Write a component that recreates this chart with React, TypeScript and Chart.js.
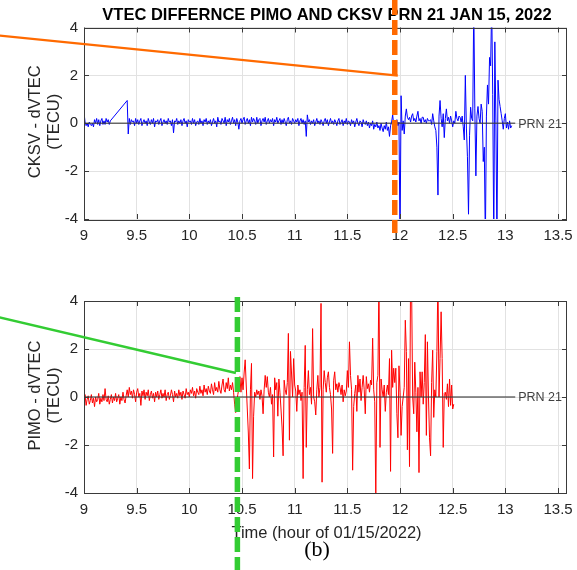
import React, { useEffect, useRef } from 'react';
import { Chart, registerables } from 'chart.js';

Chart.register(...registerables);

// ---- data -------------------------------------------------------------
const TIME_START = 9; // hour of first sample
const TIME_STEP = 0.01; // hours between samples

const X_MIN = 9;
const X_MAX = 13.585;
const X_TICKS = [9, 9.5, 10, 10.5, 11, 11.5, 12, 12.5, 13, 13.5];
const Y_MIN = -4;
const Y_MAX = 4;
const Y_TICKS = [-4, -2, 0, 2, 4];

// CKSV - dVTEC (TECU), one value per TIME_STEP starting at 9.00 h (null = data gap)
const CKSV_DVTEC: (number | null)[] = [
  0.45, 0.05, -0.1, 0, -0.15, 0.05, -0.05, -0.1, 0, -0.15,
  0.15, 0, 0.2, -0.05, 0.15, -0.1, 0.1, 0.2, -0.05, 0.1,
  -0.05, 0.2, 0.05, 0.15, -0.05, 0.1, null, null, null, null,
  null, null, null, null, null, null, null, null, null, null,
  null, 0.95, -0.45, 0.2, -0.05, 0.15, 0.05, 0.1, -0.1, 0.2,
  0, 0.15, -0.05, 0.1, 0.2, -0.1, 0.05, 0.15, 0, 0.1,
  -0.1, 0.2, 0.05, -0.05, 0.15, 0, 0.2, -0.15, 0.1, 0.05,
  0.15, -0.05, 0.1, 0.2, -0.1, 0.05, 0.15, 0, 0.1, -0.05,
  0.2, 0.05, 0.1, -0.1, 0.15, -0.4, 0.1, 0.05, 0.2, -0.05,
  0.1, 0, 0.15, -0.1, 0.1, 0.2, 0, 0.1, -0.15, 0.15,
  0.05, 0.1, -0.05, 0.2, 0, 0.15, -0.1, 0.05, 0.1, -0.05,
  0.2, 0, 0.1, -0.1, 0.15, 0.05, 0.2, -0.05, 0.1, 0,
  0.15, -0.1, 0.05, 0.2, 0, 0.1, -0.15, 0.25, 0.05, 0.1,
  -0.05, 0.2, 0.1, 0, 0.25, -0.1, 0.15, 0.05, 0.2, -0.05,
  0.1, 0.25, 0, 0.15, -0.1, 0.2, 0.05, -0.25, 0.1, 0.2,
  0, 0.15, 0.25, -0.05, 0.1, 0.2, 0, 0.15, -0.1, 0.25,
  0.05, 0.2, 0.1, -0.05, 0.25, 0, 0.15, 0.2, -0.1, 0.1,
  0.2, 0.05, 0.25, -0.05, 0.1, 0.2, 0, 0.15, 0.05, 0.2,
  -0.1, 0.15, 0.05, 0.25, 0, 0.1, 0.2, -0.05, 0.15, 0,
  0.2, 0.05, -0.1, 0.15, 0.25, 0, 0.1, -0.05, 0.2, 0.1,
  0, 0.15, 0.05, 0.2, -0.1, 0.1, 0.2, 0, 0.15, -0.05,
  0.1, -0.55, 0.35, 0.05, 0.15, -0.05, 0.1, 0, 0.15, -0.1,
  0.05, 0.2, 0, 0.1, -0.05, 0.15, 0.05, -0.1, 0.1, 0.2,
  0, 0.15, -0.1, 0.05, 0.2, 0, 0.1, -0.05, 0.15, 0.05,
  -0.1, 0.1, 0.2, -0.05, 0.05, 0.15, -0.1, 0.1, 0, 0.2,
  -0.05, 0.1, 0.05, -0.1, 0.15, 0, 0.1, -0.15, 0.05, 0.2,
  0, -0.1, 0.1, 0.05, -0.15, 0.15, 0, -0.05, 0.1, -0.1,
  0.05, -0.2, 0, -0.1, 0.1, -0.25, -0.05, -0.15, 0.05, -0.2,
  -0.1, -0.3, 0, -0.2, -0.35, -0.1, -0.25, 0.05, -0.3, -0.15,
  -0.55, -0.1, 0.05, 0.35, -0.05, 0.1, 0, 0.15, -0.1, 0.05,
  -5, 1.15, -0.3, 0.1, -0.45, 0.3, 0.6, 0.25, 0.15, 0.25,
  0.05, 0.3, 0.4, 0.1, 0.2, 0.05, 0.3, 0.5, 0.1, 0.2,
  0, 0.25, 0.25, 0.05, 0.15, 0, 0.2, 0.1, 0.1, 0.15,
  -0.05, 0.4, 0.1, -0.15, -0.3, -1, -3, 0.3, 0.95, 0.2,
  -0.15, 0.4, -0.6, 0.2, 0.6, 0.1, 0.25, 0, 0.3, 0.1,
  -0.15, 0.1, 0, 0.5, 0.2, 0.1, 0.3, 0.25, 0.05, 0.3,
  -0.15, -0.7, 2, -0.2, -1.4, -3.8, -0.5, 0.67, 0.2, 0.1,
  5, 0.6, -2.2, 0.3, 0.7, 0.2, 0, 0.8, 0.5, -1.6,
  -1, -5, 0.3, 1.6, 0.8, 2.75, 2.4, 5, 1.2, -5,
  3.4, 0.1, -5, 1.8, 1, 0.7, 0.4, 0.1, -0.25, 0.2,
  0.4, -0.2, 0.05, -0.25, 0.1, -0.2, -0.1,
];

// PIMO - dVTEC (TECU), one value per TIME_STEP starting at 9.00 h
const PIMO_DVTEC: (number | null)[] = [
  -0.2, 0.1, -0.35, -0.1, 0.05, -0.3, -0.15, 0.1, -0.25, -0.05,
  -0.4, 0, -0.2, -0.1, 0.15, -0.3, -0.05, -0.2, 0.1, -0.15,
  0.35, -0.1, -0.2, 0.05, -0.3, -0.1, 0.1, -0.25, 0, -0.15,
  0.15, -0.2, -0.05, 0.1, -0.3, 0, -0.15, 0.2, -0.1, -0.25,
  0.05, 0.3, 0, 0.4, 0.1, 0.25, -0.05, 0.3, 0.1, -0.2,
  0.2, 0.35, 0, 0.15, -0.35, 0.25, 0.05, 0.3, -0.1, 0.2,
  0.05, 0.3, -0.15, 0.1, 0.25, -0.05, 0.15, -0.2, 0.2, 0,
  0.25, -0.1, 0.1, 0.3, -0.05, 0.15, 0, 0.3, -0.15, 0.1,
  0.2, -0.1, 0.05, 0.3, 0.1, -0.2, 0.25, 0, 0.15, -0.05,
  0.3, 0.05, 0.2, -0.1, 0.25, 0.1, -0.05, 0.35, 0.1, 0.2,
  0, 0.3, 0.15, 0.4, 0.05, 0.25, -0.05, 0.35, 0.2, 0.1,
  0.45, 0.15, 0.3, 0.05, 0.5, 0.2, 0.35, 0.1, 0.45, 0.25,
  0.15, 0.55, 0.3, 0.1, 0.6, 0.25, 0.4, 0.2, 0.65, 0.3,
  0.15, 0.5, 0.75, 0.3, 0.2, 0.6, 0.35, 0.8, 0.25, 0.5,
  0.3, 0.6, 0.2, -0.3, -0.65, -0.2, 0.1, 0.35, 0.85, 0.2,
  0.8, 0.3, 1, 1.55, 0.5, -0.5, -1.5, -3, 0.3, 1.4,
  -3.4, -0.8, 0.2, 0, 0.3, 0.1, 0.25, -0.1, 0.3, 0.05,
  -0.7, 0.3, 0.9, 0.4, 0.85, 0.2, 0, 0.4, -0.3, 0.1,
  -2.5, 0.8, 0.3, 0.6, -0.8, 0.75, 0.2, -0.5, -1.25, -2.45,
  0.7, 0.3, 0.1, 0.6, 2.65, -1.8, 1.9, 1, 0, 1.6,
  0.5, 0.25, -0.6, 0.5, 0.1, 0.3, -0.15, 0.2, -3.4, 0.4,
  2.15, -2.1, 0.3, 1.1, 0.1, 0.4, -0.3, 2.85, 0, -0.2,
  -0.75, 0.3, 0.9, 0, 0.4, 3.9, -3.55, 0.3, 1.1, 0.6,
  0.2, 0.8, 1.05, 0.4, 0.1, -0.5, -2.35, 0.7, 1.05, 0.3,
  0.55, 0.2, 0.6, 0.4, 0.1, 0.5, -0.2, 0.3, 0.05, 0.25,
  1.1, 0.4, 2.3, 0.9, 0.3, -3.05, -0.4, 0.15, 0.5, -0.6,
  0.9, 0.2, 0.75, -0.15, 0.4, 0.9, 0.3, -0.7, 0.85, 0.35,
  0.55, 0.2, 0.7, 0.5, 2.45, 0.3, -0.2, -4.2, 0.6, 0.9,
  5, -2.1, 0.75, 0.3, 0, 0.5, -0.6, 0.2, 0.5, 0.1,
  1.6, -3.1, 1.95, 0.4, 1.2, 0.6, 1.2, -0.7, -1.7, 1.3,
  0.2, -1.6, -0.4, 0, 0.4, 3.2, 1.9, -2.2, 1.6, -2.9,
  5, 4.5, 0, -0.7, 1.45, 0.2, -1.45, 0.4, -3.15, 1.05,
  0, 1.05, -0.3, 0.6, 2.6, -1.6, 2.3, 0, -1.7, -2.45,
  0.6, 1.95, -0.85, 0.3, 0, 1.9, 5, 0, 1.6, 3.55,
  1.6, -2.1, 0.15, 0.2, -0.1, 0.55, -0.4, 0.75, -0.35, 0.5,
  -0.5, -0.3,
];

// Text
const TITLE = 'VTEC DIFFERNCE PIMO AND CKSV PRN 21 JAN 15, 2022';
const X_TITLE = 'Time (hour of 01/15/2022)';
const TOP_Y_TITLE = ['CKSV - dVTEC', '(TECU)'];
const BOTTOM_Y_TITLE = ['PIMO - dVTEC', '(TECU)'];
const LINE_LABEL = 'PRN 21';
const CAPTION = '(b)';

// Event markers (data units: hour, TECU)
const ORANGE_TIME = 11.95;
const ORANGE_POINTER: [number, number][] = [[8.1, 3.705], [11.979, 1.99]];
const GREEN_TIME = 10.456;
const GREEN_POINTER: [number, number][] = [[8.1, 3.416], [10.442, 1.0]];

// ---- styling ------------------------------------------------------------
const SANS = '"Liberation Sans", Arial, sans-serif';
const SERIF = '"Liberation Serif", "Times New Roman", serif';
const AXIS_COLOR = '#3a3a3a';
const TEXT_COLOR = '#262626';
const GRID_COLOR = '#e2e2e2';
const ORANGE = '#ff6a00';
const GREEN = '#33cc33';

const toPoints = (vals: (number | null)[]) =>
  vals.map((v, i) => ({ x: +(TIME_START + i * TIME_STEP).toFixed(2), y: v }));

const decorPlugin = {
  id: 'decor',
  afterDatasetsDraw(chart: any) {
    const { ctx, chartArea: a, scales } = chart;
    const xs = scales.x;
    const ys = scales.y;
    ctx.save();
    // zero reference line with label
    const y0 = ys.getPixelForValue(0);
    ctx.font = `12.5px ${SANS}`;
    const tw = ctx.measureText(LINE_LABEL).width;
    const tx = a.right - 5 - tw;
    ctx.strokeStyle = 'rgba(60,60,60,0.75)';
    ctx.lineWidth = 1.3;
    ctx.beginPath();
    ctx.moveTo(a.left, y0);
    ctx.lineTo(tx - 3, y0);
    ctx.stroke();
    ctx.fillStyle = '#404040';
    ctx.textAlign = 'left';
    ctx.textBaseline = 'middle';
    ctx.fillText(LINE_LABEL, tx, y0 + 1);
    // box
    ctx.strokeStyle = AXIS_COLOR;
    ctx.lineWidth = 1;
    ctx.strokeRect(Math.round(a.left) + 0.5, Math.round(a.top) + 0.5, Math.round(a.right - a.left) - 1, Math.round(a.bottom - a.top));
    // inward tick marks
    ctx.beginPath();
    X_TICKS.forEach((t) => {
      const px = Math.round(xs.getPixelForValue(t)) + 0.5;
      ctx.moveTo(px, a.bottom);
      ctx.lineTo(px, a.bottom - 5);
      ctx.moveTo(px, a.top);
      ctx.lineTo(px, a.top + 5);
    });
    Y_TICKS.forEach((t) => {
      const py = Math.round(ys.getPixelForValue(t)) + 0.5;
      ctx.moveTo(a.left, py);
      ctx.lineTo(a.left + 5, py);
      ctx.moveTo(a.right, py);
      ctx.lineTo(a.right - 5, py);
    });
    ctx.stroke();
    ctx.restore();
  },
  afterDraw(chart: any, _a: any, o: any) {
    const { ctx, chartArea: a, scales, height } = chart;
    const xs = scales.x;
    const ys = scales.y;
    ctx.save();
    // y axis title (two rotated lines)
    ctx.fillStyle = TEXT_COLOR;
    ctx.font = `16.5px ${SANS}`;
    ctx.textAlign = 'center';
    ctx.textBaseline = 'alphabetic';
    const cy = (a.top + a.bottom) / 2 - 1.5;
    (o.yTitle as string[]).forEach((line, i) => {
      ctx.save();
      ctx.translate(39.5 + i * 19, cy);
      ctx.rotate(-Math.PI / 2);
      ctx.fillText(line, 0, 0);
      ctx.restore();
    });
    if (o.title) {
      ctx.fillStyle = '#000';
      ctx.font = `bold 16.5px ${SANS}`;
      ctx.fillText(o.title, 327, 19.5);
    }
    if (o.xTitle) {
      ctx.fillStyle = TEXT_COLOR;
      ctx.font = `16.5px ${SANS}`;
      ctx.fillText(o.xTitle, 326.5, a.bottom + 44.5);
    }
    if (o.caption) {
      ctx.fillStyle = '#000';
      ctx.font = `22px ${SERIF}`;
      ctx.fillText(o.caption, 317, a.bottom + 63);
    }
    // slanted pointer line
    const m = o.marker;
    ctx.strokeStyle = m.color;
    ctx.lineWidth = m.pointerWidth;
    ctx.setLineDash([]);
    ctx.beginPath();
    ctx.moveTo(xs.getPixelForValue(m.pointer[0][0]), ys.getPixelForValue(m.pointer[0][1]));
    ctx.lineTo(xs.getPixelForValue(m.pointer[1][0]), ys.getPixelForValue(m.pointer[1][1]));
    ctx.stroke();
    // dashed vertical event line
    const vx = xs.getPixelForValue(m.time);
    const top = m.fromCanvasTop ? 0 : a.top + m.topOffset;
    const bottom = m.toCanvasBottom ? height : a.bottom + m.bottomOffset;
    ctx.lineWidth = m.width;
    ctx.lineCap = 'butt';
    ctx.setLineDash([15, 5]);
    ctx.beginPath();
    ctx.moveTo(vx, top);
    ctx.lineTo(vx, bottom);
    ctx.stroke();
    ctx.restore();
  },
};

function makeChart(canvas: HTMLCanvasElement, values: (number | null)[], color: string, areaTop: number, xAxisHeight: number, decor: any) {
  return new Chart(canvas, {
    type: 'line',
    data: {
      datasets: [
        {
          data: toPoints(values) as any,
          borderColor: color,
          borderWidth: 1,
          pointRadius: 0,
          fill: false,
          tension: 0,
          spanGaps: true,
        },
      ],
    },
    options: {
      responsive: false,
      animation: false,
      events: [],
      layout: { padding: { left: 0, right: 10, top: areaTop, bottom: 0 } },
      plugins: {
        legend: { display: false },
        title: { display: false },
        tooltip: { enabled: false },
        decor,
      } as any,
      scales: {
        x: {
          type: 'linear',
          min: X_MIN,
          max: X_MAX,
          afterBuildTicks: (s: any) => {
            s.ticks = X_TICKS.map((value) => ({ value }));
          },
          afterFit: (s: any) => {
            s.height = xAxisHeight;
            s.paddingLeft = 0;
            s.paddingRight = 0;
          },
          grid: { color: GRID_COLOR, drawTicks: false, lineWidth: 1 },
          border: { display: false },
          ticks: {
            padding: 8,
            color: TEXT_COLOR,
            font: { family: SANS, size: 15 },
            maxRotation: 0,
            autoSkip: false,
            callback: (v: any) => String(v),
          },
        },
        y: {
          type: 'linear',
          min: Y_MIN,
          max: Y_MAX,
          afterBuildTicks: (s: any) => {
            s.ticks = Y_TICKS.map((value) => ({ value }));
          },
          afterFit: (s: any) => {
            s.width = 84;
          },
          grid: { color: GRID_COLOR, drawTicks: false, lineWidth: 1 },
          border: { display: false },
          ticks: {
            padding: 6,
            color: TEXT_COLOR,
            font: { family: SANS, size: 15 },
            callback: (v: any) => String(v),
          },
        },
      },
    },
    plugins: [decorPlugin],
  } as any);
}

export default function App() {
  const topRef = useRef<HTMLCanvasElement>(null);
  const bottomRef = useRef<HTMLCanvasElement>(null);

  useEffect(() => {
    const top = makeChart(topRef.current!, CKSV_DVTEC, '#0000ff', 27.5, 61, {
      yTitle: TOP_Y_TITLE,
      title: TITLE,
      marker: {
        time: ORANGE_TIME,
        color: ORANGE,
        width: 5.5,
        pointer: ORANGE_POINTER,
        pointerWidth: 2.2,
        fromCanvasTop: true,
        toCanvasBottom: false,
        bottomOffset: 14,
      },
    });
    const bottom = makeChart(bottomRef.current!, PIMO_DVTEC, '#ff0000', 21, 77, {
      yTitle: BOTTOM_Y_TITLE,
      xTitle: X_TITLE,
      caption: CAPTION,
      marker: {
        time: GREEN_TIME,
        color: GREEN,
        width: 5.5,
        pointer: GREEN_POINTER,
        pointerWidth: 2.5,
        fromCanvasTop: false,
        topOffset: -4,
        toCanvasBottom: true,
      },
    });
    return () => {
      top.destroy();
      bottom.destroy();
    };
  }, []);

  return (
    <div style={{ position: 'fixed', left: 0, top: 0, width: 577, height: 570, background: '#fff', overflow: 'hidden' }}>
      <canvas ref={topRef} width={577} height={280} style={{ position: 'absolute', left: 0, top: 0, display: 'block' }} />
      <canvas ref={bottomRef} width={577} height={290} style={{ position: 'absolute', left: 0, top: 280, display: 'block' }} />
    </div>
  );
}
